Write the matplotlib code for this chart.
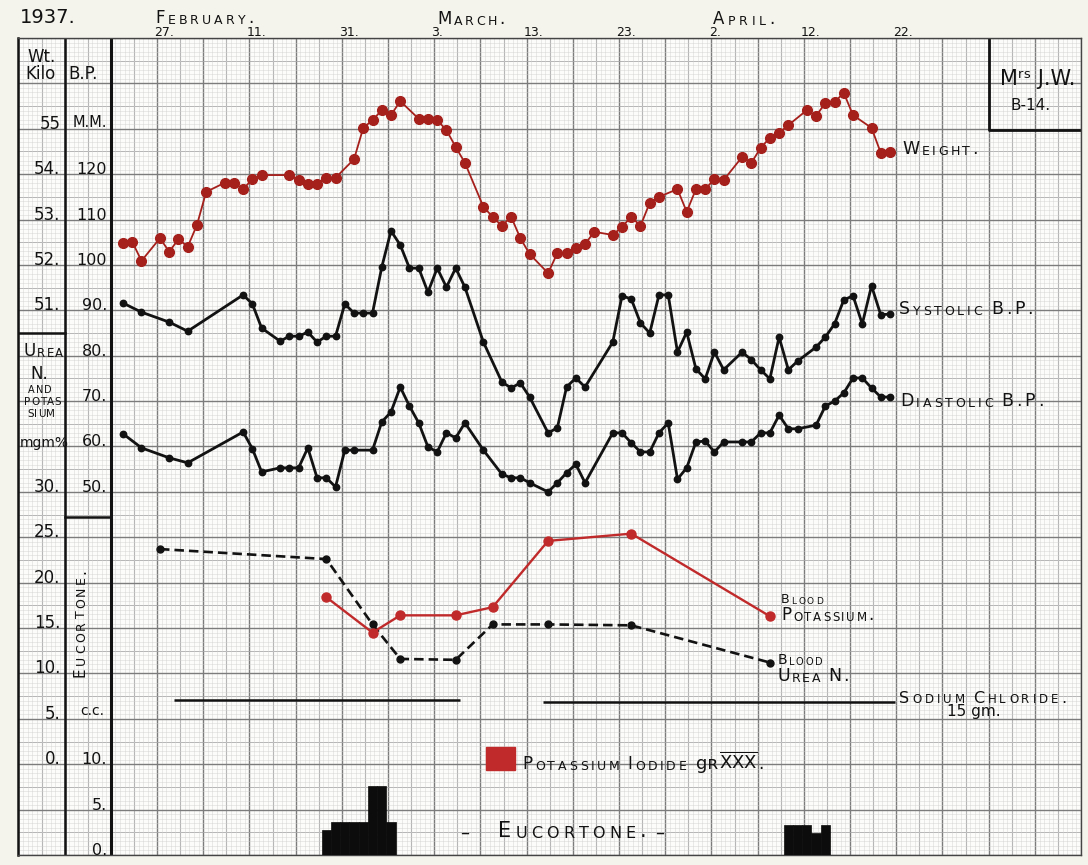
import numpy as np
import matplotlib
matplotlib.use("Agg")
import matplotlib.pyplot as plt
from matplotlib.patches import Rectangle

plt.rcParams["font.family"] = "DejaVu Sans"

# day 0 = the "27." column, one step = one day
wt_days = [-4, -3, -2, 0, 1, 2, 3, 4, 5, 7, 8, 9, 10, 11, 14, 15, 16, 17, 18, 19,
           21, 22, 23, 24, 25, 26, 28, 29, 30, 31, 32, 33, 35, 36, 37, 38, 39, 40,
           42, 43, 44, 45, 46, 47, 49, 50, 51, 52, 53, 54, 56, 57, 58, 59, 60, 61,
           63, 64, 65, 66, 67, 68, 70, 71, 72, 73, 74, 75, 77, 78, 79]
wt_kg = [52.48, 52.51, 52.09, 52.59, 52.29, 52.57, 52.40, 52.88, 53.61, 53.81, 53.81,
         53.67, 53.89, 53.98, 53.98, 53.87, 53.78, 53.78, 53.92, 53.92, 54.33, 55.02,
         55.19, 55.41, 55.30, 55.61, 55.22, 55.22, 55.19, 54.97, 54.60, 54.25, 53.28,
         53.06, 52.86, 53.06, 52.59, 52.24, 51.82, 52.26, 52.26, 52.37, 52.46, 52.73,
         52.66, 52.84, 53.06, 52.86, 53.37, 53.50, 53.67, 53.17, 53.67, 53.67, 53.89,
         53.87, 54.38, 54.25, 54.58, 54.80, 54.91, 55.08, 55.41, 55.28, 55.57, 55.59,
         55.79, 55.30, 55.02, 54.47, 54.49]

sys_days = [-4, -2, 1, 3, 9, 10, 11, 13, 14, 15, 16, 17, 18, 19, 20, 21, 22, 23, 24,
            25, 26, 27, 28, 29, 30, 31, 32, 33, 35, 37, 38, 39, 40, 42, 43, 44, 45, 46,
            49, 50, 51, 52, 53, 54, 55, 56, 57, 58, 59, 60, 61, 63, 64, 65, 66, 67, 68,
            69, 71, 72, 73, 74, 75, 76, 77, 78, 79]
sys_bp = [91.6, 89.6, 87.4, 85.4, 93.4, 91.4, 86.1, 83.2, 84.3, 84.3, 85.2, 83.0, 84.3,
          84.3, 91.4, 89.4, 89.4, 89.4, 99.5, 107.5, 104.4, 99.3, 99.3, 94.0, 99.3, 95.1,
          99.3, 95.1, 83.0, 74.2, 72.9, 74.0, 70.9, 63.0, 64.1, 73.1, 75.1, 73.1, 83.0,
          93.2, 92.5, 87.2, 85.0, 93.4, 93.4, 80.8, 85.2, 77.1, 74.9, 80.8, 76.9, 80.8,
          79.1, 76.9, 74.9, 84.1, 76.9, 78.8, 81.9, 84.1, 87.0, 92.3, 93.2, 87.0, 95.4,
          89.0, 89.2]

dia_days = [-4, -2, 1, 3, 9, 10, 11, 13, 14, 15, 16, 17, 18, 19, 20, 21, 23, 24, 25,
            26, 27, 28, 29, 30, 31, 32, 33, 35, 37, 38, 39, 40, 42, 43, 44, 45, 46, 49,
            50, 51, 52, 53, 54, 55, 56, 57, 58, 59, 60, 61, 63, 64, 65, 66, 67, 68, 69,
            71, 72, 73, 74, 75, 76, 77, 78, 79]
dia_bp = [62.8, 59.7, 57.5, 56.4, 63.2, 59.5, 54.4, 55.3, 55.3, 55.3, 59.7, 53.1, 53.1,
          51.1, 59.2, 59.2, 59.2, 65.4, 67.6, 73.1, 68.9, 65.2, 59.9, 58.8, 63.0, 61.9,
          65.2, 59.2, 53.9, 53.1, 53.1, 52.0, 50.0, 52.0, 54.2, 56.1, 52.0, 63.0, 63.0,
          60.8, 58.8, 58.8, 63.0, 65.2, 52.8, 55.3, 61.0, 61.2, 58.8, 61.0, 61.0, 61.0,
          63.0, 63.0, 66.9, 63.9, 63.9, 64.7, 68.9, 70.0, 71.8, 75.1, 75.1, 72.9, 70.9,
          70.9]

urea_days = [0, 18, 23, 26, 32, 36, 42, 51, 66]
urea_mgm = [23.7, 22.6, 15.4, 11.6, 11.5, 15.4, 15.4, 15.3, 11.2]
pot_days = [18, 23, 26, 32, 36, 42, 51, 66]
pot_mgm = [18.4, 14.5, 16.4, 16.4, 17.3, 24.6, 25.4, 16.3]

euc_days = [18, 19, 20, 21, 22, 23, 24, 25, 68, 69, 70, 71, 72]
euc_cc = [2.75, 3.67, 3.67, 3.67, 3.67, 7.6, 7.6, 3.67, 3.3, 3.3, 3.3, 2.4, 3.3]

nacl_from = [1.5, 41.5]
nacl_to = [32.5, 79.5]
nacl_level = [7.1, 6.9]

date_labels = ["27.", "11.", "31.", "3.", "13.", "23.", "2.", "12.", "22."]
wt_ticks = [55, 54, 53, 52, 51]
wt_ticklabels = ["55", "54.", "53.", "52.", "51."]
bp_ticks = [120, 110, 100, 90, 80, 70, 60, 50]
bp_ticklabels = ["120", "110", "100", "90.", "80.", "70.", "60.", "50."]
mgm_ticks = [30, 25, 20, 15, 10, 5, 0]
mgm_ticklabels = ["30.", "25.", "20.", "15.", "10.", "5.", "0."]
cc_ticks = [10, 5, 0]
cc_ticklabels = ["10.", "5.", "0."]

INK = "#121212"
RED = "#a51f1b"
RED2 = "#c12a2a"
GX = -0.32   # where the ruled lines of the paper sit


def caps(ax, x, y, s, big, small, track=2.0, rot=False, color=INK):
    # hand lettering: capitals big, lower case drawn as small capitals
    prev = None
    gap = 0.0
    for ch in s:
        if ch == " ":
            gap += big * 0.35
            continue
        size = small if ch.islower() else big
        g = ch.upper()
        if prev is None:
            if rot:
                prev = ax.text(x, y, g, fontsize=size, color=color, rotation=90,
                               ha="right", va="bottom")
            else:
                prev = ax.text(x, y, g, fontsize=size, color=color, ha="left", va="bottom")
        elif rot:
            prev = ax.annotate(g, xy=(1, 1), xycoords=prev, xytext=(0, gap + track),
                               textcoords="offset points", fontsize=size, color=color,
                               rotation=90, ha="right", va="bottom")
        else:
            prev = ax.annotate(g, xy=(1, 0), xycoords=prev, xytext=(gap + track, 0),
                               textcoords="offset points", fontsize=size, color=color,
                               ha="left", va="bottom")
        gap = 0.0
    return prev


fig = plt.figure(figsize=(10.88, 8.65), dpi=100, facecolor="#f5f4ec")
ax = fig.add_axes([18.4 / 1088, 10 / 865, 1062.7 / 1088, 817 / 865])
ax.set_facecolor("#fcfcfa")
ax.set_xlim(GX - 15, GX + 100)
ax.set_ylim(-30, 150)

# graph paper: dark every 5 days / 10 mm, medium halfway, fine mesh between
ax.set_xticks(np.arange(GX - 15, GX + 100.1, 5))
ax.set_xticks(np.arange(GX - 15, GX + 100.1, 0.5), minor=True)
ax.set_yticks(np.arange(-30, 151, 10))
ax.set_yticks(np.arange(-30, 151, 1), minor=True)
ax.tick_params(which="both", length=0, labelbottom=False, labelleft=False)
ax.grid(which="minor", color="#d0d0d0", lw=0.6, ls=(0, (1.2, 1.2)))
ax.grid(which="major", color="#7c7c7c", lw=1.0)
ax.hlines(np.arange(-25, 150, 10), GX - 15, GX + 100, color="#a4a4a4", lw=0.7, zorder=0.5)
ax.vlines(np.arange(GX - 12.5, GX + 100, 5), -30, 150, color="#a4a4a4", lw=0.8, zorder=0.5)
ax.set_axisbelow(True)
for sp in ax.spines.values():
    sp.set_color("#444444")
    sp.set_linewidth(1.0)
ax.spines["left"].set_color(INK)
ax.spines["left"].set_linewidth(1.8)

# label columns and name box
ax.axvline(GX - 10, color=INK, lw=1.8)
ax.axvline(GX - 5, color=INK, lw=2.2)
ax.plot([GX - 15, GX - 10], [85, 85], color=INK, lw=1.8)
ax.plot([GX - 10, GX - 5], [44.5, 44.5], color=INK, lw=1.8)
ax.plot([GX + 90, GX + 90, GX + 100], [150, 129.7, 129.7], color=INK, lw=2.0)

wax = ax.twinx()
wax.set_ylim(39, 57)
mgx = ax.twinx()
mgx.set_ylim(-10, 80)
ccx = ax.twinx()
ccx.set_ylim(0, 90)
for a in (wax, mgx, ccx):
    a.axis("off")

# series
ax.plot(sys_days, sys_bp, "-o", color=INK, lw=2.0, ms=4.6)
ax.plot(dia_days, dia_bp, "-o", color=INK, lw=2.0, ms=4.6)
wax.plot(wt_days, wt_kg, "-o", color=RED, lw=1.3, ms=7.0)
mgx.plot(urea_days, urea_mgm, "--o", color=INK, lw=1.9, ms=5, dashes=(3.6, 1.9))
mgx.plot(pot_days, pot_mgm, "-o", color=RED2, lw=1.7, ms=6.5)
mgx.hlines(nacl_level, nacl_from, nacl_to, color=INK, lw=1.8)
ccx.bar(euc_days, euc_cc, width=1.0, color="#0c0c0c", edgecolor="#0c0c0c", lw=0.5)

# scale figures in the left columns
for v, s in zip(wt_ticks, wt_ticklabels):
    wax.text(GX - 10.45, v, s, fontsize=12, ha="right", va="baseline", color=INK)
for v, s in zip(bp_ticks, bp_ticklabels):
    ax.text(GX - 5.4, v, s, fontsize=11.5, ha="right", va="baseline", color=INK)
for v, s in zip(mgm_ticks, mgm_ticklabels):
    mgx.text(GX - 10.45, v, s, fontsize=12, ha="right", va="baseline", color=INK)
for v, s in zip(cc_ticks, cc_ticklabels):
    ccx.text(GX - 5.4, v, s, fontsize=11.5, ha="right", va="baseline", color=INK)
ax.text(GX - 5.4, 130.3, "M.M.", fontsize=10.5, ha="right", va="baseline", color=INK)

# dates along the top
for k, s in enumerate(date_labels):
    ax.text(GX + 10 * k - 0.3, 150.4, s, fontsize=9, ha="left", va="baseline", color=INK)
ax.text(-15.15, 153.3, "1937.", fontsize=14, ha="left", va="baseline", color=INK)
caps(ax, -0.54, 152.4, "February.", 12, 9, track=2.2)
caps(ax, 29.98, 152.2, "March.", 12, 9, track=1.8)
caps(ax, 59.84, 152.2, "April.", 12, 9, track=2.6)

# column headings
ax.text(-14.29, 144.7, "Wt.", fontsize=12, ha="left", va="baseline", color=INK)
ax.text(-14.6, 141.0, "Kilo", fontsize=12, ha="left", va="baseline", color=INK)
ax.text(-9.96, 141.0, "B.P.", fontsize=12, ha="left", va="baseline", color=INK)
caps(ax, -14.72, 79.0, "Urea", 12, 8.5, track=0.8)
ax.text(-14.07, 74.9, "N.", fontsize=12, ha="left", va="baseline", color=INK)
caps(ax, -14.3, 71.3, "and", 8, 7, track=0.8)
caps(ax, -14.72, 68.7, "potas", 8, 7.5, track=0.5)
caps(ax, -14.4, 66.0, "sium", 8, 7.5, track=0.5)
ax.text(-15.15, 59.9, "mgm%", fontsize=10, ha="left", va="baseline", color=INK)
ax.text(-8.66, 0.85, "c.c.", fontsize=10, ha="left", va="baseline", color=INK)
caps(ax, -7.8, 9.2, "Eucortone.", 11, 9, track=1.8, rot=True)

# patient
ax.text(95.0, 139.6, "M\u02b3\u02e2 J.W.", fontsize=15, ha="center", va="baseline", color=INK)
ax.text(94.2, 134.1, "B-14.", fontsize=11, ha="center", va="baseline", color=INK)

# curve names
caps(ax, 80.3, 123.5, "Weight.", 12.5, 9, track=1.8)
caps(ax, 79.97, 88.3, "Systolic B.P.", 12.5, 9, track=2.0)
caps(ax, 80.08, 68.0, "Diastolic B.P.", 12.5, 9, track=2.0)
caps(ax, 67.2, 24.9, "Blood", 9, 6.5, track=1.3)
caps(ax, 67.2, 20.8, "Potassium.", 12, 8.5, track=1.3)
caps(ax, 66.8, 11.5, "Blood", 10, 7, track=1.3)
caps(ax, 66.8, 7.4, "Urea N.", 12.5, 9, track=1.3)
caps(ax, 79.97, 2.8, "Sodium Chloride.", 11.5, 8.5, track=2.2)
ax.text(85.2, 0.6, "15 gm.", fontsize=11, ha="left", va="baseline", color=INK)

# potassium iodide key
ax.add_patch(Rectangle((35.3, -11.3), 3.1, 5.1, color=RED2, zorder=3))
last = caps(ax, 39.2, -12.0, "Potassium Iodide", 12, 9, track=1.9)
last = ax.annotate("g\u0280", xy=(1, 0), xycoords=last, xytext=(7, 0),
                   textcoords="offset points", fontsize=13, color=INK, ha="left", va="bottom")
last = ax.annotate(r"$\overline{\mathrm{XXX}}$", xy=(1, 0), xycoords=last, xytext=(0.5, 1.0),
                   textcoords="offset points", fontsize=13, color=INK, ha="left", va="bottom")
ax.annotate(".", xy=(1, 0), xycoords=last, xytext=(0.5, -1.0), textcoords="offset points",
            fontsize=12, color=INK, ha="left", va="bottom")

# eucortone caption
ax.text(32.5, -26.3, "\u2013", fontsize=13, ha="left", va="baseline", color=INK)
caps(ax, 36.6, -27.0, "Eucortone.", 15, 11.5, track=3.0)
ax.text(53.6, -26.3, "\u2013", fontsize=13, ha="left", va="baseline", color=INK)

fig.savefig("out.png", dpi=100, facecolor=fig.get_facecolor())
